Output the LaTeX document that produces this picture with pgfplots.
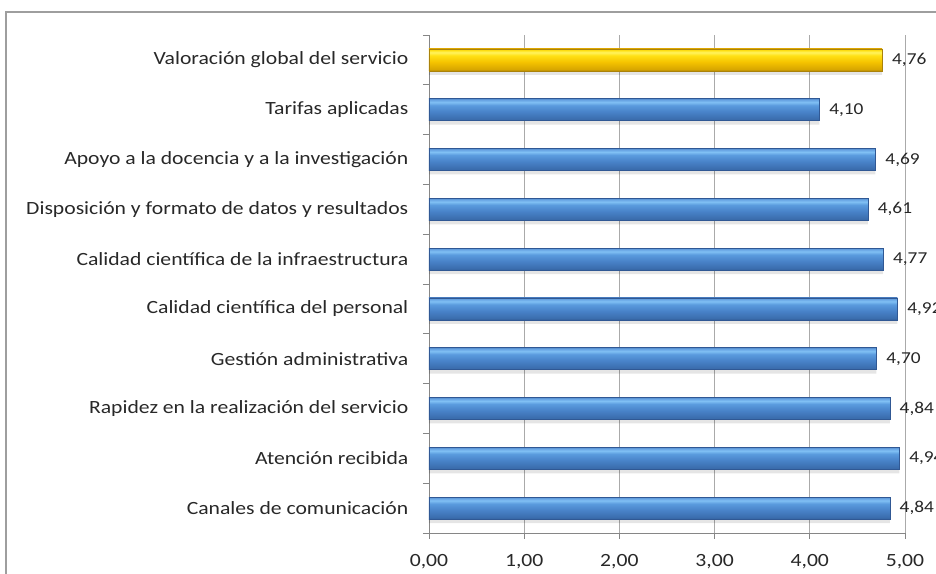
\documentclass[border=0pt]{standalone}
\usepackage{pgfplots}
\pgfplotsset{compat=1.18}
\usepackage{fontspec}
\setmainfont{Carlito}[FakeStretch=1.16]
\definecolor{txt}{RGB}{40,40,40}
\definecolor{gridc}{RGB}{170,170,170}
\definecolor{axc}{RGB}{134,134,134}
\definecolor{bA}{RGB}{48,88,148}
\definecolor{bB}{RGB}{58,108,172}
\definecolor{bC}{RGB}{72,130,200}
\definecolor{bD}{RGB}{90,155,222}
\definecolor{bE}{RGB}{128,192,244}
\definecolor{bF}{RGB}{105,165,228}
\definecolor{bG}{RGB}{85,140,205}
\definecolor{yA}{RGB}{170,130,10}
\definecolor{yB}{RGB}{215,165,0}
\definecolor{yC}{RGB}{245,195,0}
\definecolor{yD}{RGB}{255,225,20}
\definecolor{yE}{RGB}{255,243,95}
\definecolor{yF}{RGB}{255,225,20}
\definecolor{yG}{RGB}{235,190,0}
\pgfdeclareverticalshading{bluebar}{100bp}{color(0bp)=(bA); color(25bp)=(bA); color(28bp)=(bB); color(45bp)=(bC); color(60bp)=(bD); color(67bp)=(bE); color(72bp)=(bF); color(75bp)=(bG); color(100bp)=(bG)}
\pgfdeclareverticalshading{yellowbar}{100bp}{color(0bp)=(yA); color(25bp)=(yA); color(28bp)=(yB); color(45bp)=(yC); color(60bp)=(yD); color(67bp)=(yE); color(72bp)=(yF); color(75bp)=(yG); color(100bp)=(yG)}
\pgfplotstableread{
y v
0 4.84
1 4.94
2 4.84
3 4.70
4 4.92
5 4.77
6 4.61
7 4.69
8 4.10
9 4.76
}\alldata
\begin{document}
\begin{tikzpicture}
\path[use as bounding box] (-321.75pt,-30.75pt) rectangle (380.25pt,399.75pt);
\draw[axc!80, line width=0.8pt] (-317.25pt,-60pt) -- (-317.25pt,390.75pt) -- (420pt,390.75pt);
\begin{axis}[
  at={(0pt,0pt)}, anchor=south west,
  scale only axis, width=357pt, height=373.5pt,
  xmin=0, xmax=5, ymin=-0.5, ymax=9.5,
  axis lines*=left,
  axis line style={-, axc},
  every outer x axis line/.append style={-},
  every outer y axis line/.append style={-},
  tick align=outside,
  tick style={axc, line width=0.6pt},
  major tick length=4.5pt,
  xtick={0,1,2,3,4,5},
  xticklabels={{0,00},{1,00},{2,00},{3,00},{4,00},{5,00}},
  xticklabel style={font=\fontsize{14}{16}\selectfont, text=txt, yshift=-8pt},
  xmajorgrids,
  grid style={gridc, line width=0.6pt},
  ytick={-0.5,0.5,...,9.5},
  yticklabels={,,,,,,,,,,},
  extra y ticks={0,1,2,3,4,5,6,7,8,9},
  extra y tick labels={Canales de comunicación,Atención recibida,Rapidez en la realización del servicio,Gestión administrativa,Calidad científica del personal,Calidad científica de la infraestructura,Disposición y formato de datos y resultados,Apoyo a la docencia y a la investigación,Tarifas aplicadas,Valoración global del servicio},
  extra y tick style={major tick length=0pt, yticklabel style={font=\fontsize{14}{16}\selectfont, text=txt, xshift=-12pt}},
  clip=false,
  xbar, bar width=16.5pt, bar shift=0pt,
  point meta=x,
  valnode/.style={nodes near coords={\pgfmathprintnumber[fixed,fixed zerofill,precision=2,use comma,assume math mode=true]{\pgfplotspointmeta}},
    every node near coord/.append style={font=\fontsize{12.5}{14}\selectfont, text=black!85, anchor=west, xshift=4pt}},
  bbar/.style={shade, shading=bluebar, draw=bA, line width=0.3pt, valnode},
  ybarst/.style={shade, shading=yellowbar, draw=yA, line width=0.3pt, valnode},
]
% soft shadow under the bars
\addplot[fill=black, fill opacity=0.10, draw=none, bar shift=-3pt] table[x=v, y=y] {\alldata};
\addplot[bbar] table[x=v, y=y, skip coords between index={1}{10}] {\alldata};
\addplot[bbar] table[x=v, y=y, skip coords between index={0}{1}, skip coords between index={2}{10}] {\alldata};
\addplot[bbar] table[x=v, y=y, skip coords between index={0}{2}, skip coords between index={3}{10}] {\alldata};
\addplot[bbar] table[x=v, y=y, skip coords between index={0}{3}, skip coords between index={4}{10}] {\alldata};
\addplot[bbar] table[x=v, y=y, skip coords between index={0}{4}, skip coords between index={5}{10}] {\alldata};
\addplot[bbar] table[x=v, y=y, skip coords between index={0}{5}, skip coords between index={6}{10}] {\alldata};
\addplot[bbar] table[x=v, y=y, skip coords between index={0}{6}, skip coords between index={7}{10}] {\alldata};
\addplot[bbar] table[x=v, y=y, skip coords between index={0}{7}, skip coords between index={8}{10}] {\alldata};
\addplot[bbar] table[x=v, y=y, skip coords between index={0}{8}, skip coords between index={9}{10}] {\alldata};
\addplot[ybarst] table[x=v, y=y, skip coords between index={0}{9}] {\alldata};
\end{axis}
\end{tikzpicture}
\end{document}
